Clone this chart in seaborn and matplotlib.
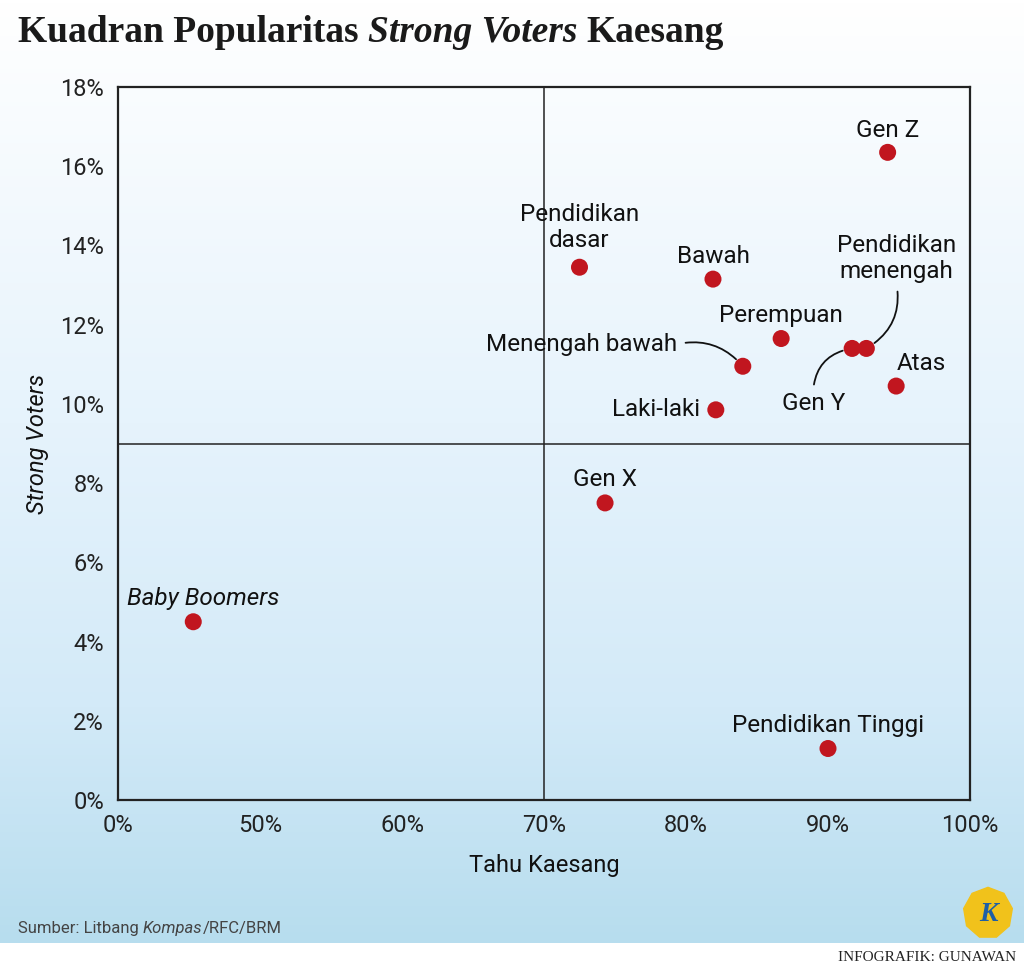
import numpy as np
import pandas as pd
import matplotlib.pyplot as plt
import matplotlib.colors as mcolors
from matplotlib.patches import RegularPolygon
import seaborn as sns

sns.set_style('white')
plt.rcParams['font.family'] = ['Roboto', 'DejaVu Sans']

# Data (x is read on the chart's broken scale: its left edge "0%" stands at 40)
groups = ['Gen Z', 'Pendidikan dasar', 'Bawah', 'Perempuan', 'Pendidikan menengah',
          'Gen Y', 'Menengah bawah', 'Atas', 'Laki-laki', 'Gen X', 'Baby Boomers',
          'Pendidikan Tinggi']
tahu = [94.2, 72.5, 81.9, 86.7, 92.7, 91.7, 84.0, 94.8, 82.1, 74.3, 45.3, 90.0]
strong = [16.35, 13.45, 13.15, 11.65, 11.4, 11.4, 10.95, 10.45, 9.85, 7.5, 4.5, 1.3]

x_ticks = [40, 50, 60, 70, 80, 90, 100]
x_labels = ['0%', '50%', '60%', '70%', '80%', '90%', '100%']
y_ticks = [0, 2, 4, 6, 8, 10, 12, 14, 16, 18]
y_labels = [f'{v}%' for v in y_ticks]

df = pd.DataFrame({'group': groups, 'tahu': tahu, 'strong': strong})

W, H = 1024, 971
fig = plt.figure(figsize=(W / 100, H / 100), dpi=100)
fig.patch.set_facecolor('white')

# background gradient
bg = fig.add_axes([0, (H - 943) / H, 1, 943 / H], zorder=-10)
cmap = mcolors.LinearSegmentedColormap.from_list(
    'bg', [(0, '#b7ddee'), (0.25, '#d3eaf8'), (0.55, '#e6f3fc'), (1.0, '#ffffff')])
grad = np.linspace(0, 1, 256).reshape(-1, 1)
bg.imshow(grad, aspect='auto', cmap=cmap, origin='lower', extent=[0, 1, 0, 1])
bg.axis('off')

ax = fig.add_axes([118 / W, (H - 800) / H, (970 - 118) / W, (800 - 87) / H])
ax.patch.set_alpha(0)

ax.axvline(70, color='#222222', lw=1.1, zorder=1)
ax.axhline(9, color='#222222', lw=1.1, zorder=1)

sns.scatterplot(data=df, x='tahu', y='strong', ax=ax, color='#c1161f',
                s=150, edgecolor='none', zorder=3, legend=False)

ax.set_xlim(40, 100)
ax.set_ylim(0, 18)
ax.set_xticks(x_ticks)
ax.set_xticklabels(x_labels)
ax.set_yticks(y_ticks)
ax.set_yticklabels(y_labels)
ax.tick_params(axis='both', length=0, labelsize=17, colors='#222222', pad=10)
for s in ax.spines.values():
    s.set_color('#222222')
    s.set_linewidth(1.6)

ax.set_xlabel('Tahu Kaesang', fontsize=17, labelpad=12, color='#111111')
ax.set_ylabel('Strong Voters', fontsize=17, labelpad=8, color='#111111', style='italic')

# point labels: offsets in pixels
lab = dict(fontsize=17.5, color='#111111', textcoords='offset pixels')
offs = {
    'Gen Z': (0, 22, 'center', {}),
    'Pendidikan dasar': (0, 40, 'center', {}),
    'Bawah': (0, 23, 'center', {}),
    'Perempuan': (0, 23, 'center', {}),
    'Atas': (25, 23, 'center', {}),
    'Laki-laki': (-16, 0, 'right', {}),
    'Gen X': (0, 23, 'center', {}),
    'Baby Boomers': (10, 23, 'center', {'style': 'italic'}),
    'Pendidikan Tinggi': (0, 23, 'center', {}),
}
for g, (dx, dy, ha, kw) in offs.items():
    r = df[df.group == g].iloc[0]
    txt = 'Pendidikan\ndasar' if g == 'Pendidikan dasar' else g
    ax.annotate(txt, (r.tahu, r.strong), xytext=(dx, dy), ha=ha, va='center',
                linespacing=1.15, **lab, **kw)

# labels with leader lines
line = dict(arrowstyle='-', color='#111111', lw=1.3)
r = df[df.group == 'Pendidikan menengah'].iloc[0]
ax.annotate('Pendidikan\nmenengah', (r.tahu, r.strong), xytext=(30, 90),
            ha='center', va='center', linespacing=1.15, **lab,
            arrowprops=dict(**line, shrinkA=4, shrinkB=7, relpos=(0.5, 0.0),
                            connectionstyle='arc3,rad=-0.35'))
r = df[df.group == 'Gen Y'].iloc[0]
ax.annotate('Gen Y', (r.tahu, r.strong), xytext=(-39, -55),
            ha='center', va='center', **lab,
            arrowprops=dict(**line, shrinkA=3, shrinkB=7, relpos=(0.5, 1.0),
                            connectionstyle='arc3,rad=-0.4'))
r = df[df.group == 'Menengah bawah'].iloc[0]
ax.annotate('Menengah bawah', (r.tahu, r.strong), xytext=(-66, 22),
            ha='right', va='center', **lab,
            arrowprops=dict(**line, shrinkA=4, shrinkB=7, relpos=(1.0, 0.5),
                            connectionstyle='arc3,rad=-0.3'))

# title and footer
fig.canvas.draw()
rend = fig.canvas.get_renderer()


def chain(parts, x0, y, **kw):
    x = x0
    for t, extra in parts:
        tt = fig.text(x, y, t, va='center', ha='left', **kw, **extra)
        bb = tt.get_window_extent(rend)
        x = bb.x1 / W
    return x


chain([('Kuadran Popularitas ', {}), ('Strong Voters ', {'style': 'italic'}),
       ('Kaesang', {})], 18 / W, 1 - 33 / H, fontsize=27, fontweight='bold',
      family='Liberation Serif', color='#1a1a1a')

chain([('Sumber: Litbang ', {}), ('Kompas', {'style': 'italic'}), ('/RFC/BRM', {})],
      18 / W, 1 - 928 / H, fontsize=12, color='#444444')

fig.text(1016 / W, 1 - 957 / H, 'INFOGRAFIK: GUNAWAN', fontsize=11,
         family='Liberation Serif', ha='right', va='center', color='#222222')

# logo
lax = fig.add_axes([962 / W, 1 - 940 / H, 52 / W, 54 / H])
lax.set_xlim(-1, 1)
lax.set_ylim(-1, 1)
lax.add_patch(RegularPolygon((0, 0), 9, radius=0.95, color='#f1c21b'))
lax.text(0, -0.05, 'K', fontsize=20, fontweight='bold', style='italic',
         family='Liberation Serif', color='#1f5fa5', ha='center', va='center')
lax.axis('off')

fig.savefig('out.png', dpi=100)
